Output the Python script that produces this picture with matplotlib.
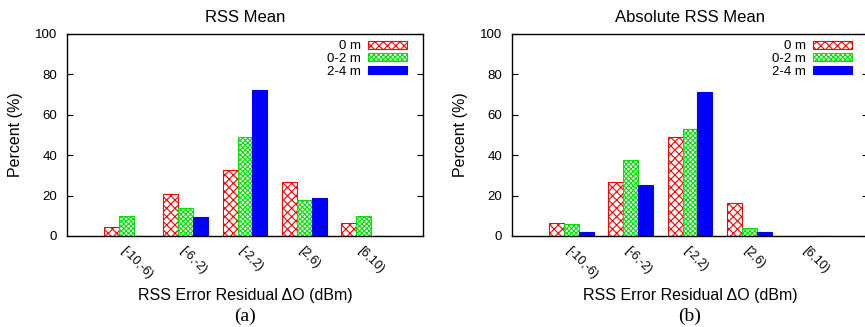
import numpy as np
import matplotlib
matplotlib.use("Agg")
import matplotlib.pyplot as plt

plt.rcParams['font.family'] = ['Liberation Sans', 'DejaVu Sans']
plt.rcParams['hatch.linewidth'] = 0.8

# ---------------------------
# data
# ---------------------------
bins = ["[-10,-6)", "[-6,-2)", "[-2,2)", "[2,6)", "[6,10)"]
series = ["0 m", "0-2 m", "2-4 m"]

mean_0m = [4.3, 20.7, 32.7, 26.6, 6.3]
mean_02m = [9.9, 13.7, 49.1, 17.9, 9.9]
mean_24m = [0.0, 9.4, 72.4, 18.7, 0.0]

abs_0m = [6.4, 26.8, 49.1, 16.5, 0.0]
abs_02m = [5.9, 37.4, 53.1, 4.0, 0.0]
abs_24m = [2.0, 25.3, 71.4, 2.0, 0.0]

styles = [
    dict(facecolor="white", edgecolor="#ff0000", hatch="xxxx"),
    dict(facecolor="white", edgecolor="#00e000", hatch="xxxxxxx"),
    dict(facecolor="#0000ff", edgecolor="#0000ff", hatch=None),
]

W, H = 865, 327
fig = plt.figure(figsize=(W / 100, H / 100), dpi=100)


def panel(left, title, data, tag):
    ax = fig.add_axes([left / W, (H - 236) / H, 356 / W, 202 / H])
    x = np.arange(len(bins))
    w = 0.25
    for i, (vals, st) in enumerate(zip(data, styles)):
        ax.bar(x + (i - 1) * w, vals, w, label=series[i], linewidth=0.8, **st)
    ax.set_xlim(-1, 5)
    ax.set_ylim(0, 100)
    ax.set_yticks(range(0, 101, 20))
    ax.tick_params(axis="y", direction="in", right=True, length=4.5, labelsize=9.5, pad=7)
    ax.set_xticks(x)
    ax.set_xticklabels(bins, rotation=-45, ha="left", va="top", rotation_mode="anchor", fontsize=9)
    ax.tick_params(axis="x", length=0, pad=6)
    for s in ax.spines.values():
        s.set_linewidth(1.0)
    ax.set_title(title, fontsize=12, pad=9)
    ax.set_ylabel("Percent (%)", fontsize=11.5)
    ax.yaxis.set_label_coords(-44 / 356, 0.5)
    ax.set_xlabel("RSS Error Residual \u0394O (dBm)", fontsize=11.5)
    ax.xaxis.set_label_coords(0.5, -52 / 202)
    ax.legend(loc="upper right", bbox_to_anchor=(345 / 356, 0.995), markerfirst=False,
              frameon=False, fontsize=9.5, handlelength=2.9, handleheight=0.55,
              labelspacing=0.05, borderaxespad=0.0, handletextpad=0.6)
    fig.text((left + 178) / W, 1 - 316 / H, tag, ha="center", va="center",
             fontsize=14, family="Liberation Serif")
    return ax


panel(67, "RSS Mean", [mean_0m, mean_02m, mean_24m], "(a)")
panel(512, "Absolute RSS Mean", [abs_0m, abs_02m, abs_24m], "(b)")

fig.savefig("out.png", dpi=100)
